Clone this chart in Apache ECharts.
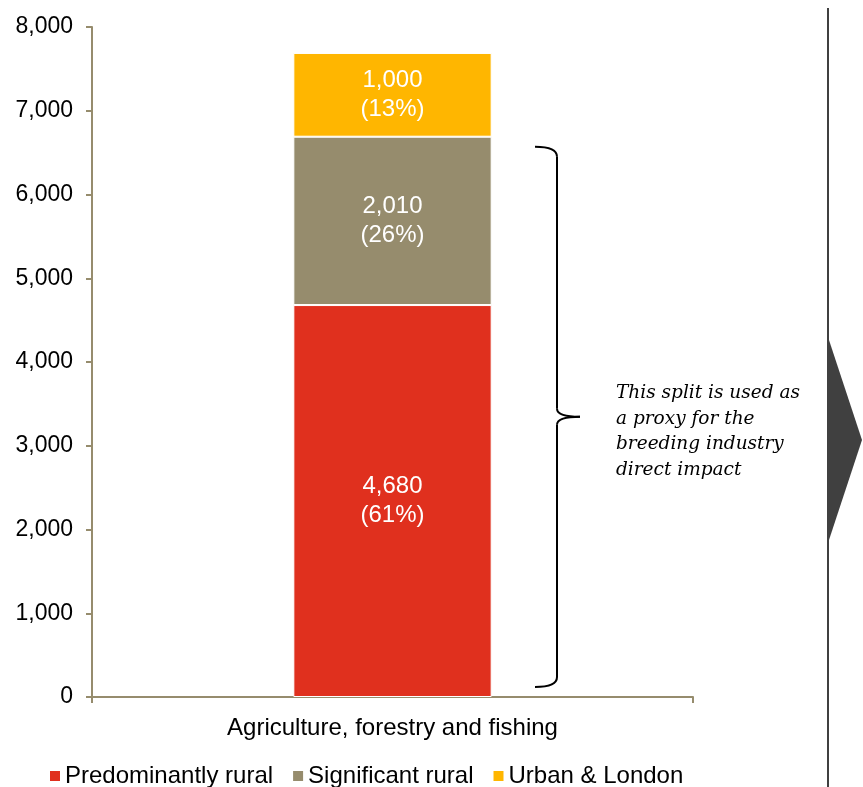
<!DOCTYPE html>
<html>
<head>
<meta charset="utf-8">
<script src="https://cdn.jsdelivr.net/npm/echarts@6/dist/echarts.min.js"></script>
<style>
html,body{margin:0;padding:0;background:#fff;}
#chart{width:863px;height:787px;}
</style>
</head>
<body>
<div id="chart"></div>
<script>
var categories = ['Agriculture, forestry and fishing'];
var seriesNames = ['Predominantly rural', 'Significant rural', 'Urban & London'];
var predominantlyRural = [4680];
var significantRural = [2010];
var urbanLondon = [1000];
var yTicks = [0, 1000, 2000, 3000, 4000, 5000, 6000, 7000, 8000];
var braceRange = [120, 6570];
var noteLines = ['This split is used as', 'a proxy for the', 'breeding industry', 'direct impact'];

(function(){
var colors = ['#E0301E', '#968C6D', '#FFB600'];
var axisColor = '#968C6D';
var allSeries = [predominantlyRural, significantRural, urbanLondon];
var total = predominantlyRural[0] + significantRural[0] + urbanLondon[0];

function fmt(v){ return v.toString().replace(/\B(?=(\d{3})+(?!\d))/g, ','); }

var chart = echarts.init(document.getElementById('chart'));
var option = {
  animation: false,
  backgroundColor: '#fff',
  grid: {left: 92, right: 170, top: 27, bottom: 90, containLabel: false},
  legend: {
    bottom: -6, left: 43,
    icon: 'rect', itemWidth: 12, itemHeight: 12, itemGap: 18,
    textStyle: {fontFamily: 'Liberation Sans, Arial', fontSize: 24, color: '#000', padding: [0,0,0,-1]},
    data: seriesNames
  },
  xAxis: {
    type: 'category', data: categories,
    axisLine: {lineStyle: {color: axisColor, width: 2}},
    axisTick: {show: true, alignWithLabel: false, length: 6, lineStyle: {color: axisColor, width: 2}},
    axisLabel: {fontFamily: 'Liberation Sans, Arial', fontSize: 24, color: '#000', margin: 19}
  },
  yAxis: {
    type: 'value', min: yTicks[0], max: yTicks[yTicks.length-1], interval: yTicks[1]-yTicks[0],
    axisLine: {show: true, lineStyle: {color: axisColor, width: 2}},
    axisTick: {show: true, length: 6, lineStyle: {color: axisColor, width: 2}},
    splitLine: {show: false},
    axisLabel: {fontFamily: 'Liberation Sans, Arial', fontSize: 23, color: '#000', margin: 19, formatter: function(v){return fmt(v);}}
  },
  series: seriesNames.map(function(name, i){
    return {
      name: name, type: 'bar', stack: 'total', barWidth: '33%',
      data: allSeries[i],
      itemStyle: {color: colors[i], borderColor: '#fff', borderWidth: 1},
      label: {
        show: true, position: 'inside', color: '#fff',
        fontFamily: 'Liberation Sans, Arial', fontSize: 24, lineHeight: 29,
        formatter: function(p){ return fmt(p.value) + '\n(' + Math.round(p.value/total*100) + '%)'; }
      }
    };
  })
};
chart.setOption(option);

var yTop = chart.convertToPixel({xAxisIndex:0, yAxisIndex:0}, [0, braceRange[1]])[1];
var yBot = chart.convertToPixel({xAxisIndex:0, yAxisIndex:0}, [0, braceRange[0]])[1];
var yMid = (yTop + yBot) / 2;
var x0 = 535, x1 = 557, x2 = 580;
function st(){ return {stroke: '#000', lineWidth: 2, fill: 'none'}; }

chart.setOption({
  graphic: [
    {type: 'bezierCurve', shape: {x1: x0, y1: yTop, cpx1: x1, cpy1: yTop, x2: x1, y2: yTop + 10}, style: st()},
    {type: 'line', shape: {x1: x1, y1: yTop + 10, x2: x1, y2: yMid - 8}, style: st()},
    {type: 'bezierCurve', shape: {x1: x1, y1: yMid - 8, cpx1: x1, cpy1: yMid, x2: x2, y2: yMid}, style: st()},
    {type: 'bezierCurve', shape: {x1: x2, y1: yMid, cpx1: x1, cpy1: yMid, x2: x1, y2: yMid + 8}, style: st()},
    {type: 'line', shape: {x1: x1, y1: yMid + 8, x2: x1, y2: yBot - 10}, style: st()},
    {type: 'bezierCurve', shape: {x1: x1, y1: yBot - 10, cpx1: x1, cpy1: yBot, x2: x0, y2: yBot}, style: st()},
    {type: 'text', left: 616, top: yMid - 36,
     style: {text: noteLines.join('\n'), font: 'italic 18.5px "DejaVu Serif", Georgia, serif', lineHeight: 25.5, fill: '#000'}},
    {type: 'line', shape: {x1: 828, y1: 8, x2: 828, y2: 787}, style: {stroke: '#404040', lineWidth: 2}},
    {type: 'polygon', shape: {points: [[827, 334], [862, 440], [827, 546]]}, style: {fill: '#404040'}}
  ]
});
})();
</script>
</body>
</html>
